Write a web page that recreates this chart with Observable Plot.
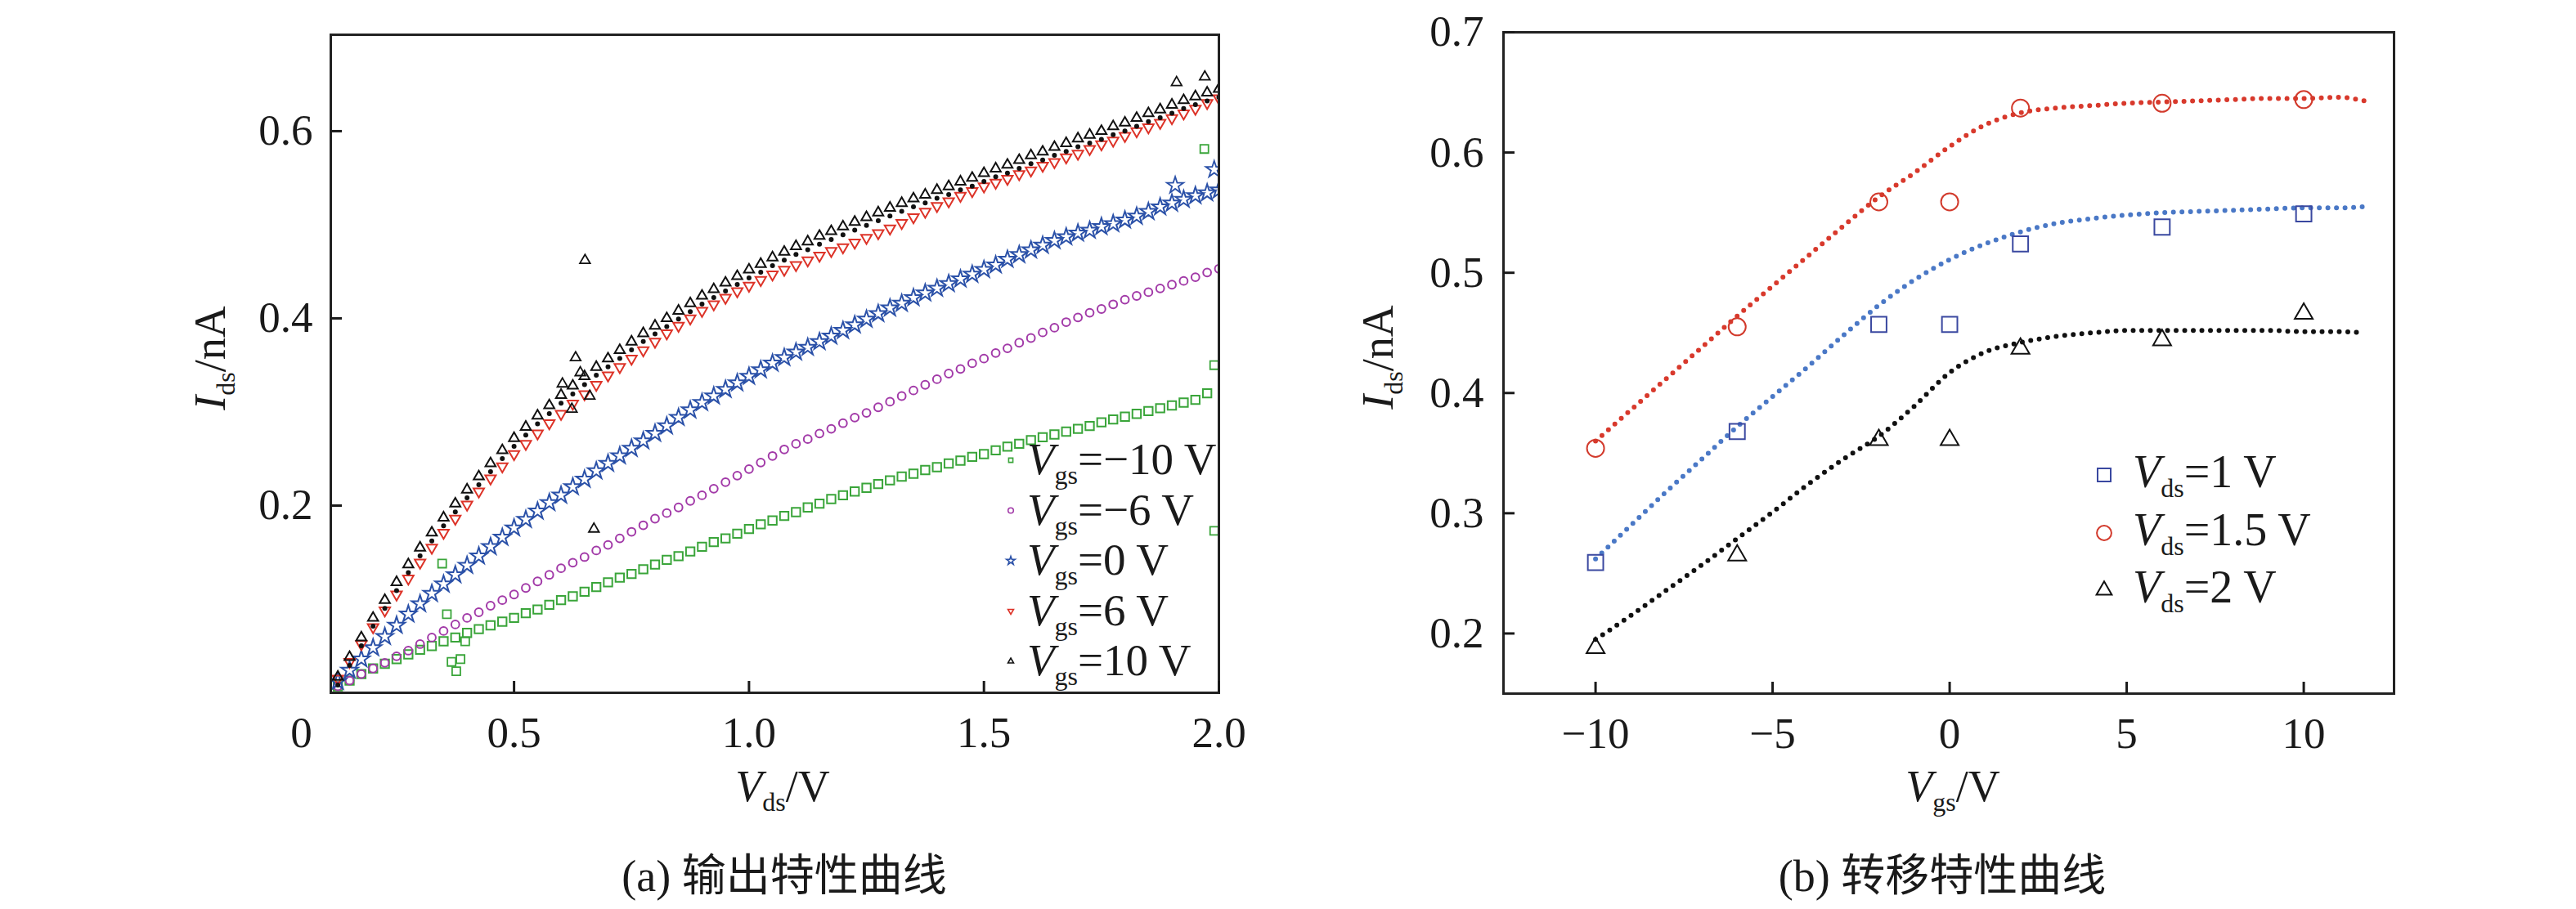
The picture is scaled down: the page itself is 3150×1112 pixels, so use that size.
<!DOCTYPE html>
<html><head><meta charset="utf-8">
<script src="https://cdn.jsdelivr.net/npm/d3@7"></script>
<script src="https://cdn.jsdelivr.net/npm/@observablehq/plot@0.6"></script>
<style>
html,body{margin:0;padding:0;background:#fff;}
body{width:3150px;height:1112px;position:relative;overflow:hidden;}
#pa{position:absolute;left:0;top:0;}
#pb{position:absolute;left:1575px;top:0;}
.cap{position:absolute;top:1042px;width:800px;text-align:center;font-size:54px;line-height:60px;
 font-family:"Liberation Serif","Noto Sans CJK SC",serif;color:#1a1a1a;white-space:nowrap;}
#capA{left:559px;}
#capB{left:1975px;}
</style></head>
<body>
<div id="pa"></div><div id="pb"></div>
<div class="cap" id="capA">(a) 输出特性曲线</div>
<div class="cap" id="capB">(b) 转移特性曲线</div>
<script>
// ---------- Panel (a): output characteristics ----------
const vds = [0.125,0.15,0.175,0.2,0.225,0.25,0.275,0.3,0.325,0.35,0.375,0.4,0.425,0.45,0.475,0.5,0.525,0.55,0.575,0.6,
 0.625,0.65,0.675,0.7,0.725,0.75,0.775,0.8,0.825,0.85,0.875,0.9,0.925,0.95,0.975,1.0,1.025,1.05,1.075,1.1,
 1.125,1.15,1.175,1.2,1.225,1.25,1.275,1.3,1.325,1.35,1.375,1.4,1.425,1.45,1.475,1.5,1.525,1.55,1.575,1.6,
 1.625,1.65,1.675,1.7,1.725,1.75,1.775,1.8,1.825,1.85,1.875,1.9,1.925,1.95,1.975,2.0];
const idsVgsM10 = [0.007,0.013,0.020,0.026,0.031,0.036,0.041,0.046,0.050,0.055,0.059,0.064,0.068,0.072,0.076,0.080,0.085,0.089,0.094,0.099,
 0.103,0.108,0.113,0.118,0.123,0.127,0.132,0.137,0.142,0.146,0.151,0.156,0.161,0.165,0.170,0.175,0.180,0.184,0.189,0.193,
 0.198,0.202,0.207,0.211,0.215,0.219,0.223,0.227,0.231,0.234,0.238,0.241,0.245,0.248,0.252,0.255,0.259,0.263,0.266,0.270,
 0.273,0.276,0.279,0.282,0.285,0.289,0.292,0.295,0.298,0.301,0.304,0.307,0.310,0.313,0.320,null];
const idsVgsM6 = [0.007,0.013,0.020,0.026,0.032,0.039,0.045,0.052,0.059,0.066,0.073,0.080,0.086,0.093,0.099,0.105,0.112,0.119,0.126,0.133,
 0.139,0.145,0.152,0.158,0.165,0.172,0.179,0.186,0.192,0.198,0.205,0.211,0.218,0.225,0.232,0.239,0.246,0.253,0.260,0.266,
 0.271,0.277,0.282,0.288,0.294,0.299,0.305,0.311,0.317,0.323,0.329,0.335,0.341,0.346,0.352,0.357,0.363,0.368,0.374,0.379,
 0.385,0.390,0.396,0.401,0.406,0.410,0.415,0.420,0.424,0.428,0.432,0.436,0.440,0.444,0.449,0.453];
const idsVgs0 = [0.012,0.024,0.036,0.048,0.060,0.072,0.084,0.095,0.106,0.116,0.126,0.136,0.146,0.156,0.166,0.176,0.185,0.194,0.203,0.211,
 0.220,0.228,0.237,0.245,0.253,0.261,0.269,0.277,0.285,0.294,0.302,0.310,0.317,0.324,0.331,0.338,0.345,0.352,0.358,0.364,
 0.369,0.375,0.381,0.387,0.393,0.399,0.405,0.411,0.416,0.422,0.427,0.432,0.437,0.442,0.447,0.452,0.457,0.463,0.468,0.473,
 0.478,0.483,0.487,0.491,0.494,0.498,0.501,0.505,0.509,0.514,0.519,0.523,0.527,0.531,0.534,0.537];
const idsVgs6 = [0.015,0.033,0.052,0.070,0.088,0.105,0.122,0.139,0.155,0.171,0.186,0.201,0.215,0.229,0.242,0.255,0.266,0.277,0.288,0.298,
 0.309,0.319,0.329,0.339,0.348,0.357,0.366,0.375,0.384,0.392,0.400,0.408,0.415,0.422,0.429,0.435,0.441,0.447,0.452,0.457,
 0.462,0.467,0.472,0.476,0.481,0.486,0.491,0.496,0.502,0.508,0.514,0.520,0.525,0.531,0.536,0.541,0.545,0.549,0.554,0.558,
 0.563,0.567,0.572,0.576,0.581,0.586,0.590,0.595,0.600,0.604,0.609,0.614,0.619,0.624,0.630,0.635];
const idsVgs10 = [0.017,0.038,0.059,0.080,0.099,0.118,0.137,0.155,0.171,0.187,0.202,0.217,0.231,0.245,0.259,0.272,0.284,0.296,0.307,0.318,
 0.328,0.338,0.348,0.357,0.366,0.375,0.384,0.392,0.400,0.408,0.416,0.424,0.431,0.438,0.445,0.452,0.458,0.465,0.471,0.477,
 0.482,0.488,0.493,0.498,0.503,0.508,0.513,0.518,0.523,0.528,0.532,0.537,0.541,0.546,0.550,0.555,0.560,0.564,0.569,0.574,
 0.578,0.583,0.587,0.592,0.596,0.600,0.605,0.609,0.614,0.619,0.623,0.628,0.633,0.637,0.641,0.645];
// stray points
const strayGreenX = [0.347,0.357,0.367,0.377,0.386,0.396,1.969,1.99,1.99];
const strayGreenY = [0.138,0.084,0.033,0.023,0.036,0.055,0.581,0.350,0.173];
const strayBlackX = [0.603,0.623,0.631,0.641,0.651,0.661,0.670,1.910,1.970];
const strayBlackY = [0.330,0.303,0.358,0.342,0.462,0.317,0.175,0.652,0.658];
const strayBlueX = [1.907,1.99];
const strayBlueY = [0.542,0.559];
const xTicksA = [0.5,1.0,1.5,2.0];
const yTicksA = [0.2,0.4,0.6];
const legendA = ["=−10 V","=−6 V","=0 V","=6 V","=10 V"];

// ---------- Panel (b): transfer characteristics ----------
const vgs = [-10,-6,-2,0,2,6,10];
const idsVds1 = [0.259,0.368,0.457,0.457,0.524,0.538,0.549];
const idsVds15 = [0.354,0.455,0.559,0.559,0.637,0.641,0.644];
const idsVds2 = [0.188,0.265,0.361,0.361,0.437,0.444,0.466];
const vgsFit = [-10,-9,-8,-7,-6,-5,-4,-3,-2,-1,0,1,2,3,4,5,6,7,8,9,10,11,11.7];
const fitVds1 = [0.262,0.290,0.318,0.345,0.372,0.397,0.422,0.448,0.473,0.494,0.511,0.524,0.534,0.541,0.545,0.548,0.550,0.551,0.552,0.553,0.554,0.554,0.555];
const fitVds15 = [0.360,0.386,0.412,0.438,0.464,0.489,0.514,0.539,0.563,0.583,0.605,0.623,0.633,0.637,0.639,0.641,0.642,0.643,0.644,0.645,0.645,0.646,0.643];
const fitVds2 = [0.195,0.215,0.236,0.257,0.279,0.301,0.324,0.345,0.364,0.389,0.417,0.434,0.442,0.447,0.450,0.452,0.452,0.452,0.452,0.452,0.451,0.451,0.450];
const xTicksB = [-10,-5,0,5,10];
const yTicksB = [0.2,0.3,0.4,0.5,0.6,0.7];
const legendB = ["=1 V","=1.5 V","=2 V"];

// ---------- helpers ----------
const FONT = "'Liberation Serif', 'Times New Roman', serif";
const triDown = {draw(ctx, size){ const s = Math.sqrt(size)*0.6824, t = s/2, u = s*Math.sqrt(3)/2;
  ctx.moveTo(0, s); ctx.lineTo(u, -t); ctx.lineTo(-u, -t); ctx.closePath(); }};
const symMap = {square: d3.symbolSquare2, circle: d3.symbolCircle, star: d3.symbolStar, triDown: triDown, triangle: d3.symbolTriangle2};
const pairs = (xs, ys) => xs.map((x,i) => ({x, y: ys[i]})).filter(d => d.y != null);
const minusFmt = d => (d < 0 ? "−" + Math.abs(d) : String(d));

function rich(sel, x, y, parts, o = {}) {
  const t = sel.append("text").attr("x", x).attr("y", y)
    .attr("text-anchor", o.anchor || "start").attr("font-size", o.size || 54)
    .attr("font-family", FONT).attr("fill", "#1a1a1a");
  if (o.rotate) t.attr("transform", `rotate(${o.rotate},${x},${y})`);
  let shift = 0;
  for (const p of parts) {
    const s = t.append("tspan").text(p.t);
    const target = p.sub ? 12 : 0;
    if (target !== shift) { s.attr("dy", target - shift); shift = target; }
    if (p.sub) s.attr("font-size", o.subSize || 32);
    if (p.italic) s.attr("font-style", "italic");
  }
  return t;
}
function sym(sel, type, r, cx, cy, color, sw) {
  sel.append("path").attr("d", d3.symbol(symMap[type], Math.PI*r*r)())
    .attr("transform", `translate(${cx},${cy})`).attr("fill", "none")
    .attr("stroke", color).attr("stroke-width", sw);
}

// ---------- Panel (a) ----------
const seriesA = [
  {y: idsVgsM10, color: "#3aa53a", symbol: "square", r: 6.6},
  {y: idsVgsM6,  color: "#a23aa8", symbol: "circle", r: 4.9},
  {y: idsVgs0,   color: "#2b51a8", symbol: "star",   r: 6.4},
  {y: idsVgs6,   color: "#dd3328", symbol: "triDown",r: 6.2},
  {y: idsVgs10,  color: "#111111", symbol: "triangle",r: 6.0}
];
const marksA = [];
seriesA.forEach((s, i) => {
  if (i === 4) marksA.push(Plot.dot(pairs(vds, s.y), {x: "x", y: "y", r: 3, fill: "#111", dy: 10, clip: true}));
  marksA.push(Plot.dot(pairs(vds, s.y), {x: "x", y: "y", r: s.r, symbol: symMap[s.symbol], stroke: s.color, strokeWidth: 2, clip: true}));
});
marksA.push(Plot.dot(pairs(strayGreenX, strayGreenY), {x: "x", y: "y", r: 6.4, symbol: d3.symbolSquare2, stroke: "#3aa53a", strokeWidth: 1.8, clip: true}));
marksA.push(Plot.dot(pairs(strayBlueX, strayBlueY), {x: "x", y: "y", r: 6.4, symbol: d3.symbolStar, stroke: "#2b51a8", strokeWidth: 1.8, clip: true}));
marksA.push(Plot.dot(pairs(strayBlackX, strayBlackY), {x: "x", y: "y", r: 6.0, symbol: d3.symbolTriangle2, stroke: "#111", strokeWidth: 1.8, clip: true}));

const plotA = Plot.plot({
  width: 1575, height: 1000,
  marginLeft: 404, marginRight: 85, marginTop: 42, marginBottom: 153,
  x: {domain: [0.11, 2.0]},
  y: {domain: [0, 0.703]},
  style: {fontFamily: FONT, fontSize: "53px", color: "#1a1a1a", background: "white", overflow: "visible"},
  marks: [
    ...marksA,
    Plot.frame({stroke: "#222", strokeWidth: 3}),
    Plot.axisX({ticks: xTicksA, tickFormat: d3.format(".1f"), tickSize: -14, tickPadding: 43, strokeWidth: 3, label: null}),
    Plot.axisY({ticks: yTicksA, tickFormat: d3.format(".1f"), tickSize: -14, tickPadding: 36, strokeWidth: 3, label: null}),
    Plot.text(["0"], {text: d => d, frameAnchor: "bottom-left", dx: -36, dy: 29, lineAnchor: "top", textAnchor: "middle"})
  ]
});
document.getElementById("pa").append(plotA);
{
  const g = d3.select(plotA).append("g");
  rich(g, 957, 980, [{t: "V", italic: true}, {t: "ds", sub: true}, {t: "/V"}], {anchor: "middle"});
  rich(g, 275, 438, [{t: "I", italic: true}, {t: "ds", sub: true}, {t: "/nA"}], {anchor: "middle", rotate: -90});
  const base = [580, 641.5, 703, 764.5, 826];
  legendA.forEach((lab, i) => {
    const s = seriesA[i];
    sym(g, s.symbol, 3.3, 1236, base[i] - 17, s.color, 1.6);
    rich(g, 1256, base[i], [{t: "V", italic: true}, {t: "gs", sub: true}, {t: lab}], {size: 55});
  });
}

// ---------- Panel (b) ----------
const seriesB = [
  {pts: idsVds1,  fit: fitVds1,  color: "#3a48a0", line: "#4a78c6", symbol: "square",   r: 12},
  {pts: idsVds15, fit: fitVds15, color: "#d23a2c", line: "#d8392c", symbol: "circle",   r: 10.5},
  {pts: idsVds2,  fit: fitVds2,  color: "#111111", line: "#111111", symbol: "triangle", r: 10.5}
];
const marksB = [];
seriesB.forEach(s => {
  marksB.push(Plot.line(pairs(vgsFit, s.fit), {x: "x", y: "y", stroke: s.line, strokeWidth: 6, strokeDasharray: "0,10.5", strokeLinecap: "round", curve: "monotone-x"}));
});
seriesB.forEach(s => {
  marksB.push(Plot.dot(pairs(vgs, s.pts), {x: "x", y: "y", r: s.r, symbol: symMap[s.symbol], stroke: s.color, strokeWidth: 2}));
});
const plotB = Plot.plot({
  width: 1575, height: 1000,
  marginLeft: 263, marginRight: 223, marginTop: 39, marginBottom: 152,
  x: {domain: [-12.6, 12.55]},
  y: {domain: [0.15, 0.7]},
  style: {fontFamily: FONT, fontSize: "53px", color: "#1a1a1a", background: "white", overflow: "visible"},
  marks: [
    ...marksB,
    Plot.frame({stroke: "#222", strokeWidth: 3}),
    Plot.axisX({ticks: xTicksB, tickFormat: minusFmt, tickSize: -14, tickPadding: 43, strokeWidth: 3, label: null}),
    Plot.axisY({ticks: yTicksB, tickFormat: d3.format(".1f"), tickSize: -14, tickPadding: 38, strokeWidth: 3, label: null})
  ]
});
document.getElementById("pb").append(plotB);
{
  const g = d3.select(plotB).append("g");
  rich(g, 813, 980, [{t: "V", italic: true}, {t: "gs", sub: true}, {t: "/V"}], {anchor: "middle"});
  rich(g, 128, 437, [{t: "I", italic: true}, {t: "ds", sub: true}, {t: "/nA"}], {anchor: "middle", rotate: -90});
  const base = [596, 667, 737];
  legendB.forEach((lab, i) => {
    const s = seriesB[i];
    sym(g, s.symbol, s.r * 0.85, 998, base[i] - 15, s.color, 2);
    rich(g, 1033, base[i], [{t: "V", italic: true}, {t: "ds", sub: true}, {t: lab}], {size: 56});
  });
}
</script>
</body></html>
